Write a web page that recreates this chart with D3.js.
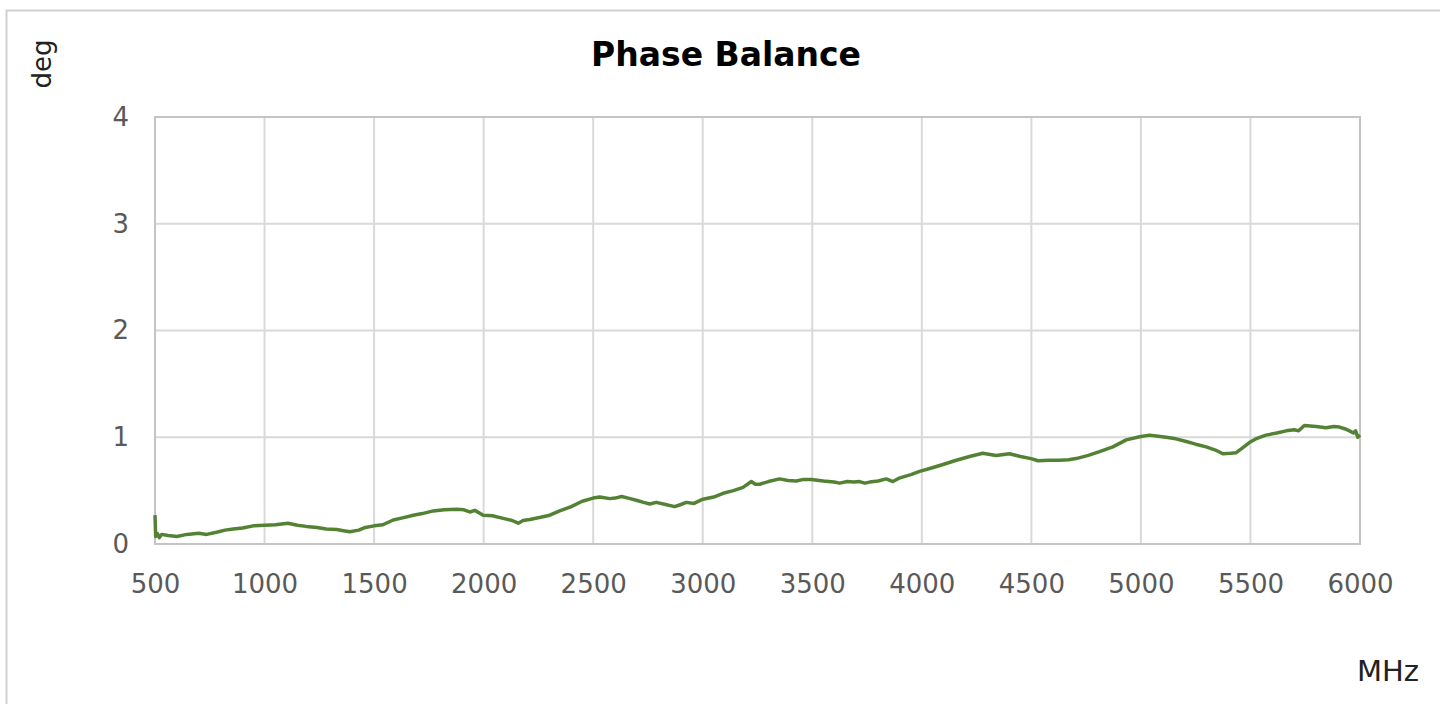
<!DOCTYPE html>
<html>
<head>
<meta charset="utf-8">
<script src="https://cdn.jsdelivr.net/npm/d3@7"></script>
<style>
  body { margin: 0; background: #fff; }
  svg { display: block; }
</style>
</head>
<body>
<div id="chart"></div>
<script>
// frequency (MHz) and phase balance (deg)
let freq = [500, 503, 510, 520, 530, 560, 600, 645, 700, 736, 781, 820, 857, 900, 948, 1000, 1050, 1107, 1150, 1190,
    1240, 1281, 1330, 1360, 1390, 1430, 1460, 1500, 1540, 1587, 1630, 1679, 1720, 1770, 1820, 1876, 1910, 1937, 1960, 1998,
    2040, 2089, 2130, 2158, 2180, 2211, 2260, 2302, 2347, 2400, 2450, 2500, 2530, 2576, 2600, 2630, 2660, 2697, 2730, 2758,
    2788, 2830, 2872, 2900, 2925, 2960, 3001, 3050, 3093, 3140, 3184, 3222, 3240, 3260, 3300, 3351, 3390, 3427, 3460, 3496,
    3550, 3600, 3625, 3660, 3690, 3716, 3740, 3762, 3800, 3838, 3868, 3900, 3950, 3990, 4040, 4097, 4150, 4218, 4278, 4339,
    4400, 4450, 4499, 4530, 4580, 4628, 4670, 4704, 4760, 4811, 4872, 4933, 4994, 5039, 5080, 5115, 5160, 5207, 5250, 5298,
    5340, 5374, 5410, 5435, 5470, 5495, 5530, 5571, 5620, 5663, 5700, 5720, 5746, 5800, 5845, 5880, 5906, 5930, 5952, 5970,
    5980, 5990, 6000];
let phase = [0.27, 0.07, 0.10, 0.06, 0.09, 0.08, 0.07, 0.09, 0.10, 0.09, 0.11, 0.13, 0.14, 0.15, 0.17, 0.175, 0.18, 0.195, 0.175, 0.165,
    0.155, 0.14, 0.135, 0.125, 0.115, 0.13, 0.155, 0.17, 0.18, 0.225, 0.245, 0.27, 0.285, 0.31, 0.32, 0.325, 0.32, 0.30, 0.315, 0.27,
    0.265, 0.24, 0.22, 0.195, 0.22, 0.23, 0.25, 0.27, 0.31, 0.35, 0.40, 0.43, 0.44, 0.425, 0.43, 0.445, 0.43, 0.41, 0.39, 0.375,
    0.39, 0.37, 0.35, 0.37, 0.39, 0.38, 0.42, 0.44, 0.475, 0.50, 0.53, 0.585, 0.56, 0.56, 0.585, 0.61, 0.595, 0.59, 0.605, 0.605,
    0.59, 0.58, 0.57, 0.585, 0.58, 0.585, 0.57, 0.58, 0.59, 0.61, 0.585, 0.62, 0.65, 0.68, 0.71, 0.745, 0.78, 0.82, 0.85, 0.83,
    0.845, 0.82, 0.80, 0.78, 0.785, 0.785, 0.79, 0.80, 0.83, 0.865, 0.91, 0.975, 1.005, 1.02, 1.01, 1.0, 0.985, 0.96, 0.935, 0.91,
    0.88, 0.845, 0.85, 0.855, 0.91, 0.95, 0.99, 1.02, 1.04, 1.06, 1.07, 1.06, 1.11, 1.10, 1.09, 1.10, 1.095, 1.08, 1.06, 1.04,
    1.06, 1.0, 1.02];
let xTicks = [500, 1000, 1500, 2000, 2500, 3000, 3500, 4000, 4500, 5000, 5500, 6000];
let yTicks = [0, 1, 2, 3, 4];

let data = freq.map(function (f, i) { return { f: f, v: phase[i] }; });

let width = 1440, height = 704;
let svg = d3.select('#chart')
    .append('svg')
    .attr('width', width)
    .attr('height', height)
    .style('font-family', '"DejaVu Sans", sans-serif');

// outer chart border
svg.append('rect')
    .attr('x', 6.5).attr('y', 10.5)
    .attr('width', 1450).attr('height', 720)
    .attr('fill', 'none')
    .attr('stroke', '#d0d0d0')
    .attr('stroke-width', 2);

let x = d3.scaleLinear().domain([500, 6000]).range([155, 1360]);
let y = d3.scaleLinear().domain([0, 4]).range([544, 117]);

// grid
svg.append('g').selectAll('line.v')
    .data(xTicks)
    .enter().append('line')
    .attr('x1', d => x(d)).attr('x2', d => x(d))
    .attr('y1', y(4)).attr('y2', y(0))
    .attr('stroke', '#d9d9d9').attr('stroke-width', 2);
svg.append('g').selectAll('line.h')
    .data(yTicks)
    .enter().append('line')
    .attr('x1', x(500)).attr('x2', x(6000))
    .attr('y1', d => y(d)).attr('y2', d => y(d))
    .attr('stroke', '#d9d9d9').attr('stroke-width', 2);

// plot frame
svg.append('rect')
    .attr('x', x(500)).attr('y', y(4))
    .attr('width', x(6000) - x(500)).attr('height', y(0) - y(4))
    .attr('fill', 'none')
    .attr('stroke', '#c4c4c4').attr('stroke-width', 2);

// axes (labels only)
let xAxis = svg.append('g')
    .attr('transform', 'translate(0,' + y(0) + ')')
    .call(d3.axisBottom(x).tickValues(xTicks).tickSize(0).tickPadding(31).tickFormat(d3.format('d')));
let yAxis = svg.append('g')
    .attr('transform', 'translate(' + x(500) + ',0)')
    .call(d3.axisLeft(y).tickValues(yTicks).tickSize(0).tickPadding(26).tickFormat(d3.format('d')));
[xAxis, yAxis].forEach(function (a) {
    a.select('.domain').remove();
    a.selectAll('text')
        .attr('fill', '#595959')
        .style('font-size', '26px')
        .style('font-family', '"DejaVu Sans", sans-serif');
});

// the curve
let line = d3.line()
    .x(d => x(d.f))
    .y(d => y(d.v));
svg.append('path')
    .datum(data)
    .attr('d', line)
    .attr('fill', 'none')
    .attr('stroke', '#548235')
    .attr('stroke-width', 3.5)
    .attr('stroke-linejoin', 'round');

// title and axis names
svg.append('text')
    .attr('x', 726).attr('y', 66)
    .attr('text-anchor', 'middle')
    .style('font-size', '33px')
    .style('font-weight', 'bold')
    .attr('fill', '#000')
    .text('Phase Balance');

svg.append('text')
    .attr('transform', 'translate(51,64) rotate(-90)')
    .attr('text-anchor', 'middle')
    .style('font-size', '26px')
    .attr('fill', '#222')
    .text('deg');

svg.append('text')
    .attr('x', 1388).attr('y', 681)
    .attr('text-anchor', 'middle')
    .style('font-size', '29px')
    .attr('fill', '#222')
    .text('MHz');
</script>
</body>
</html>
